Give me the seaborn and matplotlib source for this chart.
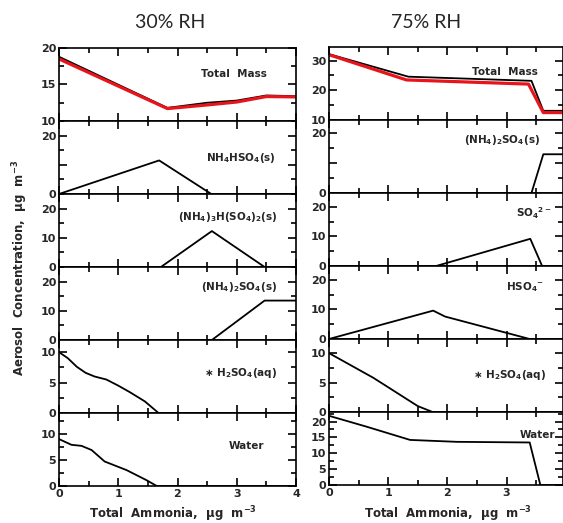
import numpy as np
import pandas as pd
import matplotlib
matplotlib.use("Agg")
import matplotlib.pyplot as plt
import seaborn as sns
from matplotlib.ticker import FixedLocator

# Daten: 30% RH (links)
x_mass30 = [0, 1.83, 2.5, 3.0, 3.5, 4.0]
mass30_black = [18.8, 11.8, 12.5, 12.8, 13.5, 13.4]
mass30_red = [18.5, 11.7, 12.2, 12.6, 13.35, 13.3]
x_bisulf30 = [0, 1.69, 2.57, 4.0]
bisulf30 = [0, 11.5, 0, 0]
x_letov30 = [0, 1.72, 2.58, 3.47, 4.0]
letov30 = [0, 0, 12.3, 0, 0]
x_amsulf30 = [0, 2.58, 3.47, 4.0]
amsulf30 = [0, 0, 13.5, 13.5]
x_h2so4_30 = [0, 0.15, 0.3, 0.45, 0.6, 0.8, 1.0, 1.2, 1.45, 1.68, 4.0]
h2so4_30 = [10, 9.0, 7.6, 6.6, 6.0, 5.5, 4.5, 3.4, 1.9, 0, 0]
x_water30 = [0, 0.21, 0.38, 0.55, 0.77, 1.14, 1.48, 1.65, 4.0]
water30 = [9.0, 7.9, 7.7, 6.9, 4.7, 3.05, 1.1, 0, 0]

# Daten: 75% RH (rechts)
x_mass75_black = [0, 1.34, 3.42, 3.62, 4.0]
mass75_black = [32.2, 24.6, 23.2, 13.1, 13.1]
x_mass75_red = [0, 1.31, 3.37, 3.62, 4.0]
mass75_red = [32.0, 23.5, 22.1, 12.5, 12.5]
x_amsulf75 = [0, 3.42, 3.62, 4.0]
amsulf75 = [0, 0, 13.0, 13.0]
x_so4_75 = [0, 1.81, 3.40, 3.60, 4.0]
so4_75 = [0, 0, 9.2, 0, 0]
x_hso4_75 = [0, 1.76, 1.96, 3.39, 4.0]
hso4_75 = [0, 9.6, 7.6, 0, 0]
x_h2so4_75 = [0, 0.75, 1.5, 1.75, 4.0]
h2so4_75 = [10, 5.8, 1.0, 0, 0]
x_water75 = [0, 0.63, 1.37, 2.16, 3.39, 3.57, 4.0]
water75 = [21.8, 18.4, 14.2, 13.6, 13.4, 0, 0]

x_ticks = [0, 1, 2, 3, 4]
x_minor = [0.5, 1.5, 2.5, 3.5]

sns.set_style("ticks")
plt.rcParams["font.family"] = ["DejaVu Sans"]
plt.rcParams["font.weight"] = "bold"
plt.rcParams["mathtext.default"] = "bf"

W, H = 563, 523
fig = plt.figure(figsize=(W / 100, H / 100), dpi=100)

left_panels = [
    (x_mass30, mass30_black, (10, 20), [10, 15, 20], [10, 15, 20], "Total  Mass", (0.878, 0.64)),
    (x_bisulf30, bisulf30, (0, 25), [0, 10, 20], [0, 20], "NH$_4$HSO$_4$(s)", (0.916, 0.49)),
    (x_letov30, letov30, (0, 25), [0, 10, 20], [0, 10, 20], "(NH$_4$)$_3$H(SO$_4$)$_2$(s)", (0.924, 0.68)),
    (x_amsulf30, amsulf30, (0, 25), [0, 10, 20], [0, 10, 20], "(NH$_4$)$_2$SO$_4$(s)", (0.92, 0.73)),
    (x_h2so4_30, h2so4_30, (0, 12), [0, 5, 10], [0, 5, 10], "$\\ast$ H$_2$SO$_4$(aq)", (0.92, 0.55)),
    (x_water30, water30, (0, 14), [0, 5, 10], [0, 5, 10], "Water", (0.865, 0.55)),
]
right_panels = [
    (x_mass75_black, mass75_black, (10, 34.6), [10, 20, 30], [10, 20, 30], "Total  Mass", (0.893, 0.66)),
    (x_amsulf75, amsulf75, (0, 24.5), [0, 10, 20], [0, 20], "(NH$_4$)$_2$SO$_4$(s)", (0.90, 0.73)),
    (x_so4_75, so4_75, (0, 24.7), [0, 10, 20], [0, 10, 20], "SO$_4$$^{2-}$", (0.95, 0.73)),
    (x_hso4_75, hso4_75, (0, 24.7), [0, 10, 20], [0, 10, 20], "HSO$_4$$^{-}$", (0.92, 0.71)),
    (x_h2so4_75, h2so4_75, (0, 12.4), [0, 5, 10], [0, 5, 10], "$\\ast$ H$_2$SO$_4$(aq)", (0.93, 0.50)),
    (x_water75, water75, (0, 23), [0, 5, 10, 15, 20], [0, 5, 10, 15, 20], "Water", (0.965, 0.68)),
]


def style_axis(ax, ylim, yticks, ylabels, xmax, last):
    ax.set_xlim(0, xmax)
    ax.set_ylim(*ylim)
    ax.set_xlabel("")
    ax.set_ylabel("")
    ax.xaxis.set_major_locator(FixedLocator(x_ticks))
    ax.xaxis.set_minor_locator(FixedLocator(x_minor))
    step = yticks[1] - yticks[0]
    ymin = [t + step / 2 for t in yticks[:-1]] + [yticks[-1] + step / 2]
    ax.yaxis.set_major_locator(FixedLocator(yticks))
    ax.yaxis.set_minor_locator(FixedLocator(ymin))
    ax.set_yticklabels([str(t) if t in ylabels else "" for t in yticks],
                       fontsize=8, fontweight="bold")
    ax.tick_params(which="both", direction="in", top=True, right=True,
                   width=1.2, color="black", pad=2)
    ax.tick_params(which="major", length=6)
    ax.tick_params(which="minor", length=3.5)
    if last:
        ax.set_xticklabels([str(t) for t in x_ticks], fontsize=8, fontweight="bold")
    else:
        ax.set_xticklabels([])
    for s in ax.spines.values():
        s.set_linewidth(1.2)
        s.set_color("black")


def draw_column(panels, x0, x1, top, bottom, xmax, red):
    ph = (bottom - top) / 6
    for i, (xs, ys, ylim, yticks, ylabels, label, pos) in enumerate(panels):
        y_top = top + i * ph
        ax = fig.add_axes([x0 / W, 1 - (y_top + ph) / H, (x1 - x0) / W, ph / H])
        df = pd.DataFrame({"x": xs, "y": ys})
        sns.lineplot(data=df, x="x", y="y", ax=ax, color="black", lw=1.3,
                     sort=False, estimator=None)
        if i == 0:
            rx, ry = red
            sns.lineplot(data=pd.DataFrame({"x": rx, "y": ry}), x="x", y="y", ax=ax,
                         color="#e8141b", lw=2.3, sort=False, estimator=None)
        ax.text(pos[0], pos[1], label, transform=ax.transAxes, ha="right",
                va="center", fontsize=7.5, fontweight="bold")
        style_axis(ax, ylim, yticks, ylabels, xmax, i == 5)


draw_column(left_panels, 59, 296, 48, 486, 4.0, (x_mass30, mass30_red))
draw_column(right_panels, 329, 563, 47, 485, (563 - 329) / 59.2, (x_mass75_red, mass75_red))

fig.text(170 / W, 1 - 22 / H, "30% RH", ha="center", va="center", fontsize=14,
         family="Lato", fontweight="normal")
fig.text(426 / W, 1 - 22 / H, "75% RH", ha="center", va="center", fontsize=14,
         family="Lato", fontweight="normal")
fig.text(20 / W, 1 - 268 / H, "Aerosol  Concentration,  \u03bcg  m$^{-3}$", rotation=90,
         ha="center", va="center", fontsize=8.5, fontweight="bold")
fig.text(173 / W, 1 - 514 / H, "Total  Ammonia,  \u03bcg  m$^{-3}$", ha="center",
         va="center", fontsize=8.5, fontweight="bold")
fig.text(448 / W, 1 - 514 / H, "Total  Ammonia,  \u03bcg  m$^{-3}$", ha="center",
         va="center", fontsize=8.5, fontweight="bold")

fig.savefig("out.png", dpi=100)
